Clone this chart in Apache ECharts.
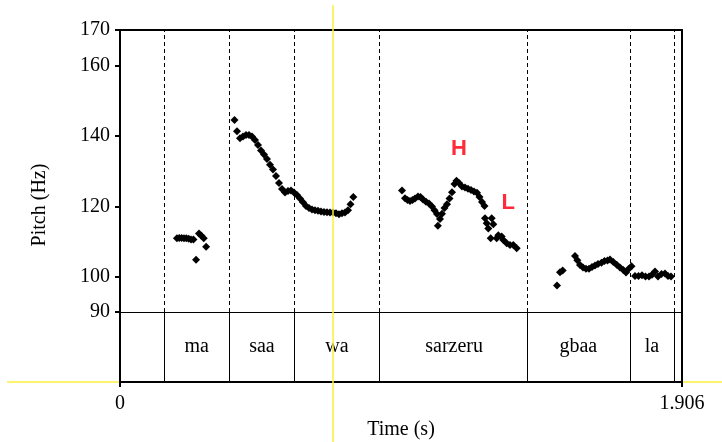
<!DOCTYPE html>
<html>
<head>
<meta charset="utf-8">
<script src="https://cdn.jsdelivr.net/npm/echarts@6/dist/echarts.min.js"></script>
<style>
html,body{margin:0;padding:0;background:#fff;}
#chart{width:722px;height:442px;}
</style>
</head>
<body>
<div id="chart"></div>
<script>
// ---- data (time in s, pitch in Hz) ----
const timeMax = 1.906;
const pitchTicks = [90, 100, 120, 140, 160, 170];
const timeTicks = [0, 1.906];
const boundaries = [0.1458, 0.3748, 0.588, 0.8838, 1.3823, 1.7262, 1.8822];
const words = ['', 'ma', 'saa', 'wa', 'sarzeru', 'gbaa', 'la', ''];
const cursorTime = 0.7224;

const maPitch = [
  [0.193,110.9],[0.201,111.0],[0.209,111.0],[0.217,110.9],[0.225,110.9],[0.233,110.8],
  [0.241,110.6],[0.249,110.6],[0.258,104.8],[0.268,112.3],[0.276,111.6],[0.284,110.9],[0.292,108.5]
];
const saaWaPitch = [
  [0.3883,144.5],[0.3968,141.3],[0.4070,139.3],[0.4172,139.8],[0.4273,140.2],[0.4375,140.2],
  [0.4477,139.8],[0.4578,138.8],[0.4680,137.4],[0.4782,135.8],[0.4884,134.7],[0.4985,133.4],
  [0.5087,131.8],[0.5189,130.4],[0.5291,128.6],[0.5392,126.6],[0.5494,124.9],[0.5596,123.9],
  [0.5697,124.3],[0.5799,124.5],[0.5901,123.9],[0.6003,123.2],[0.6104,122.2],[0.6206,121.1],
  [0.6308,120.1],[0.6410,119.5],[0.6511,119.1],[0.6613,118.9],[0.6715,118.7],[0.6817,118.5],
  [0.6918,118.4],[0.7020,118.3],[0.7122,118.2],[0.7224,118.2],[0.7326,118.0],[0.7427,117.7],
  [0.7529,118.0],[0.7631,118.2],[0.7733,118.9],[0.7817,120.6],[0.7912,122.6]
];
const sarzeruPitch = [
  [0.9564,124.5],[0.9666,122.3],[0.9750,121.8],[0.9835,121.5],[0.9920,121.8],[1.0005,122.2],
  [1.0106,122.8],[1.0191,122.6],[1.0276,121.9],[1.0378,121.3],[1.0479,120.8],[1.0581,119.9],
  [1.0666,118.9],[1.0751,117.8],[1.0780,114.5],[1.0853,116.4],[1.0920,117.9],[1.1005,119.5],
  [1.1090,120.6],[1.1175,122.2],[1.1260,124.0],[1.1344,126.3],[1.1412,127.2],[1.1497,126.6],
  [1.1599,125.6],[1.1700,125.3],[1.1802,125.0],[1.1904,124.6],[1.2006,124.2],[1.2107,123.8],
  [1.2192,122.6],[1.2277,121.2],[1.2362,120.1],[1.2379,116.6],[1.2437,115.2],[1.2491,113.7],
  [1.2572,110.9],[1.2606,116.6],[1.2660,114.9],[1.2776,110.9],[1.2830,111.8],[1.2945,111.4],
  [1.3000,110.4],[1.3115,109.5],[1.3227,109.0],[1.3339,109.0],[1.3454,108.1]
];
const gbaaLaPitch = [
  [1.4821,97.5],[1.4922,101.3],[1.5014,101.8],[1.5431,105.9],[1.5509,104.7],[1.5601,103.3],
  [1.5703,102.6],[1.5804,102.3],[1.5906,102.3],[1.6008,102.8],[1.6109,103.2],[1.6211,103.6],
  [1.6330,104.0],[1.6432,104.5],[1.6533,104.6],[1.6618,104.9],[1.6730,104.2],[1.6845,103.4],
  [1.6957,102.6],[1.7069,101.9],[1.7161,101.2],[1.7245,102.2],[1.7347,103.0],[1.7466,100.2],
  [1.7585,100.2],[1.7703,100.4],[1.7822,100.1],[1.7941,100.1],[1.8043,100.6],[1.8144,101.5],
  [1.8246,100.1],[1.8364,100.8],[1.8483,100.9],[1.8585,100.2],[1.8687,100.1]
];
const toneLabels = [
  ['H', 1.1497, 136.4],
  ['L', 1.3169, 120.8]
];

// ---- build ----
const serif = '"Liberation Serif", "Times New Roman", serif';
const edges = [0].concat(boundaries, [timeMax]);
const tierData = [];
for (let i = 0; i < words.length; i++) {
  if (words[i]) tierData.push([(edges[i] + edges[i + 1]) / 2, 0.5, words[i]]);
}
const allPitch = [].concat(maPitch, saaWaPitch, sarzeruPitch, gbaaLaPitch);

const chart = echarts.init(document.getElementById('chart'), null, {renderer: 'canvas'});
const black = '#000';
const thick = {show: true, onZero: false, lineStyle: {color: black, width: 2}};

const option = {
  backgroundColor: '#fff',
  animation: false,
  textStyle: {fontFamily: serif},
  grid: [
    {left: 120, top: 30, width: 562, height: 282, containLabel: false},
    {left: 120, top: 312, width: 562, height: 70, containLabel: false}
  ],
  xAxis: [
    {gridIndex: 0, type: 'value', min: 0, max: timeMax, position: 'top',
     axisLine: thick, axisTick: {show: false}, axisLabel: {show: false}, splitLine: {show: false}},
    {gridIndex: 1, type: 'value', min: 0, max: timeMax, position: 'bottom',
     axisLine: thick,
     axisTick: {show: true, length: 5, lineStyle: {color: black, width: 2}, customValues: timeTicks},
     axisLabel: {customValues: timeTicks, margin: 12, color: black, fontFamily: serif, fontSize: 20,
       formatter: v => (Math.abs(v) < 1e-9 ? '0' : String(timeMax))},
     splitLine: {show: false},
     name: 'Time (s)', nameLocation: 'middle', nameGap: 38,
     nameTextStyle: {color: black, fontFamily: serif, fontSize: 20}},
    {gridIndex: 0, type: 'value', min: 0, max: timeMax, position: 'bottom',
     axisLine: {show: true, onZero: false, lineStyle: {color: black, width: 1}},
     axisTick: {show: false}, axisLabel: {show: false}, splitLine: {show: false}}
  ],
  yAxis: [
    {gridIndex: 0, type: 'value', min: 90, max: 170, position: 'left',
     axisLine: thick,
     axisTick: {show: true, length: 5, lineStyle: {color: black, width: 2}, customValues: pitchTicks},
     axisLabel: {customValues: pitchTicks, margin: 10, color: black, fontFamily: serif, fontSize: 20},
     splitLine: {show: false}},
    {gridIndex: 0, type: 'value', min: 90, max: 170, position: 'right',
     axisLine: thick, axisTick: {show: false}, axisLabel: {show: false}, splitLine: {show: false}},
    {gridIndex: 1, type: 'value', min: 0, max: 1, position: 'left',
     axisLine: thick, axisTick: {show: false}, axisLabel: {show: false}, splitLine: {show: false}},
    {gridIndex: 1, type: 'value', min: 0, max: 1, position: 'right',
     axisLine: thick, axisTick: {show: false}, axisLabel: {show: false}, splitLine: {show: false}}
  ],
  series: [
    {type: 'scatter', xAxisIndex: 0, yAxisIndex: 0, data: allPitch,
     symbol: 'diamond', symbolSize: 8, itemStyle: {color: black, opacity: 1},
     markLine: {silent: true, symbol: ['none', 'none'], label: {show: false},
       lineStyle: {color: black, width: 1, type: [4, 3], opacity: 1},
       data: boundaries.map(b => ({xAxis: b}))},
     z: 3},
    {type: 'scatter', xAxisIndex: 0, yAxisIndex: 0, symbolSize: 0,
     data: toneLabels.map(d => ({value: [d[1], d[2]], name: d[0]})),
     itemStyle: {color: 'transparent', opacity: 1},
     label: {show: true, position: 'inside', formatter: p => p.name, opacity: 1,
       color: '#ff2a3a', fontFamily: '"Liberation Sans", Arial, sans-serif', fontWeight: 'bold', fontSize: 22},
     z: 4},
    {type: 'scatter', xAxisIndex: 1, yAxisIndex: 2, symbolSize: 0,
     data: tierData,
     itemStyle: {color: 'transparent', opacity: 1},
     label: {show: true, position: 'inside', formatter: p => p.value[2], opacity: 1,
       color: black, fontFamily: serif, fontSize: 20},
     markLine: {silent: true, symbol: ['none', 'none'], label: {show: false},
       lineStyle: {color: black, width: 1, type: 'solid', opacity: 1},
       data: boundaries.map(b => ({xAxis: b}))}}
  ]
};
chart.setOption(option);

// cursor lines (Praat-style yellow crosshair)
const bottomLeft = chart.convertToPixel({gridIndex: 1}, [0, 0]);
const cursorX = chart.convertToPixel({gridIndex: 1}, [cursorTime, 0])[0];
chart.setOption({
  graphic: [
    {type: 'line', z: -1, shape: {x1: 7, y1: bottomLeft[1], x2: 722, y2: bottomLeft[1]},
     style: {stroke: '#fbf03a', lineWidth: 1.5}},
    {type: 'line', z: 100, shape: {x1: cursorX, y1: 5, x2: cursorX, y2: 442},
     style: {stroke: '#fbf03a', lineWidth: 1.5}},
    {type: 'text', z: 100, x: 40, y: 205, rotation: Math.PI / 2,
     style: {text: 'Pitch (Hz)', fill: black, font: '20px ' + serif, align: 'center', verticalAlign: 'middle'}}
  ]
});
</script>
</body>
</html>
